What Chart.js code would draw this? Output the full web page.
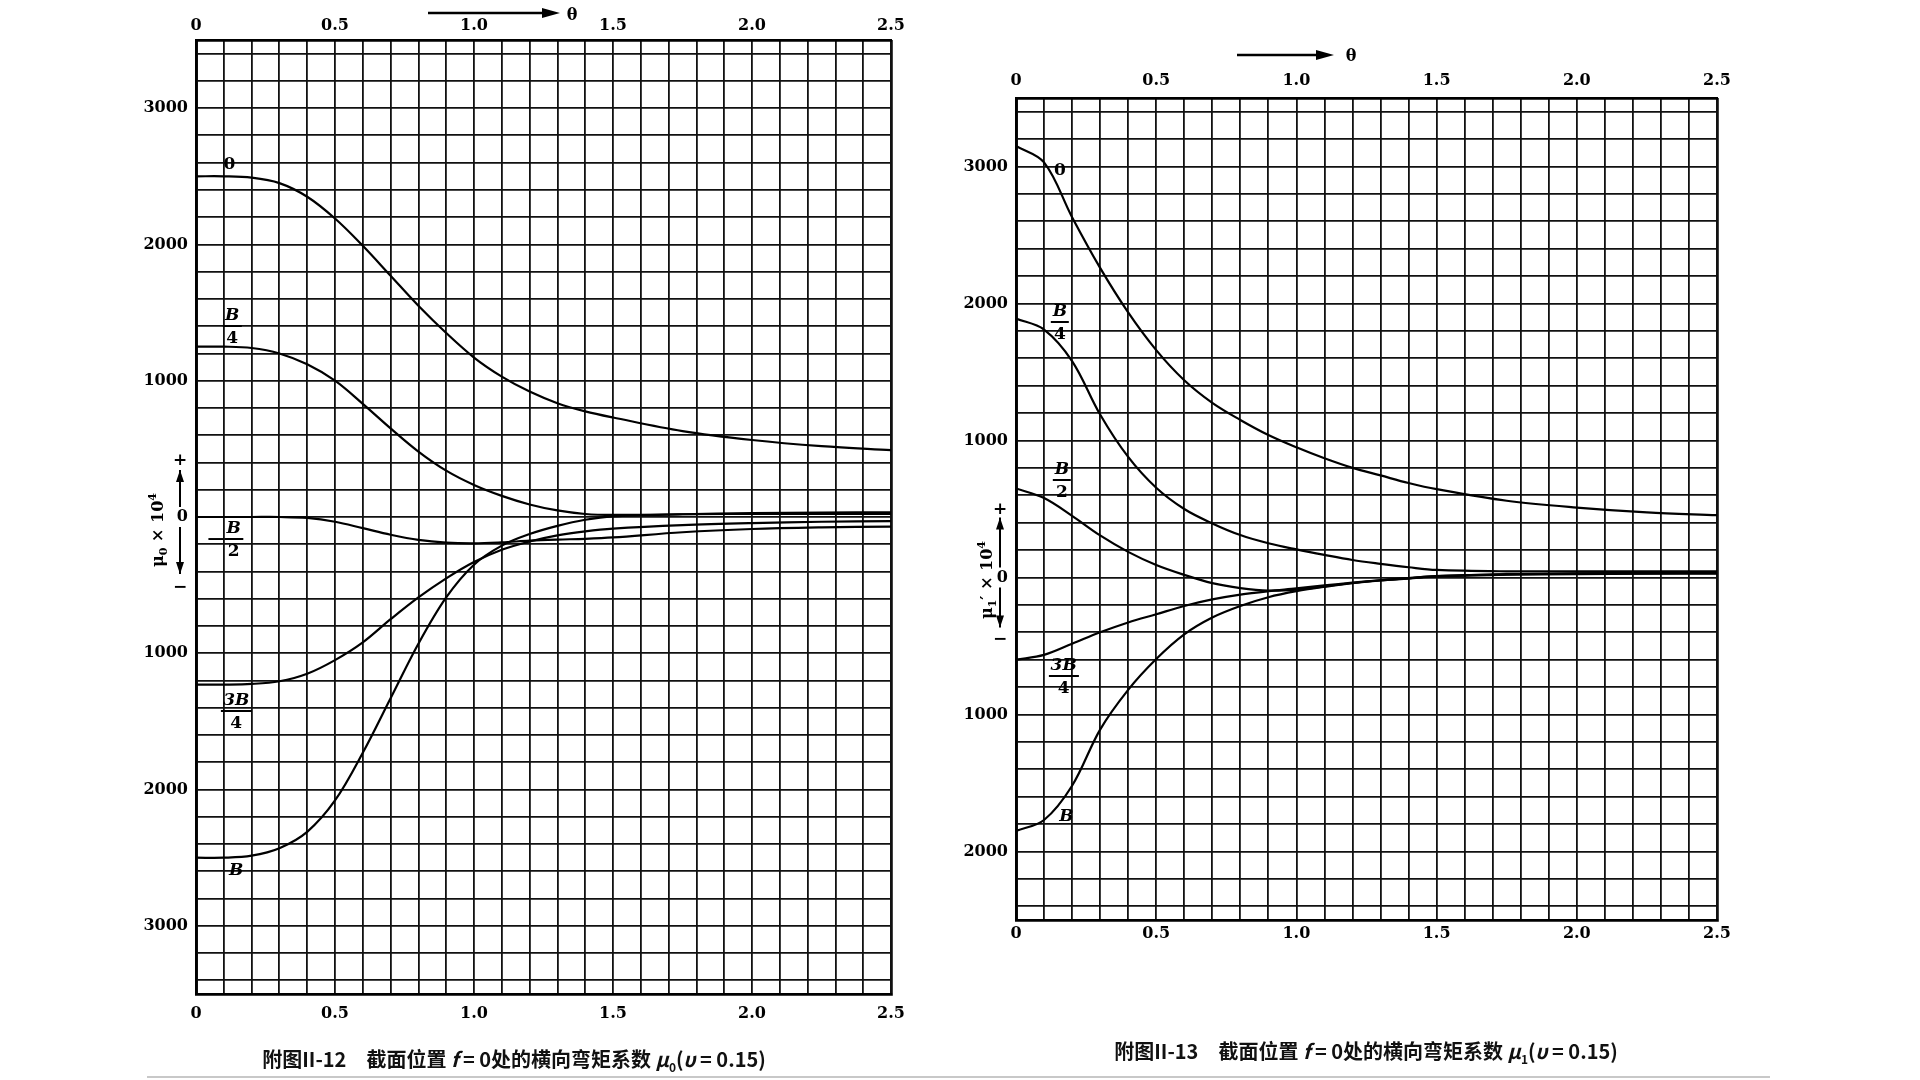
<!DOCTYPE html>
<html>
<head>
<meta charset="utf-8">
<script src="https://cdn.jsdelivr.net/npm/chart.js@4.4.0/dist/chart.umd.min.js"></script>
<style>
  body { margin: 0; background: #fff; }
  #page { position: relative; width: 1920px; height: 1080px; overflow: hidden; background: #fff; }
  .pane { position: absolute; }
  .lbl { position: absolute; transform: translate(-50%, -50%); font: bold 17px 'DejaVu Serif', serif; color: #000; white-space: nowrap; line-height: 1; }
  .row { display: inline-flex; align-items: center; }
  .frac { display: inline-flex; flex-direction: column; align-items: center; }
  .frac .n { font-style: italic; border-bottom: 2px solid #000; padding: 0 2px 2px; }
  .frac .d { padding-top: 2px; }
  .ytitle { position: absolute; transform: translate(-50%, -50%) rotate(-90deg); font: bold 16px 'DejaVu Serif', serif; white-space: nowrap; }
  .caption { position: absolute; transform: translate(-50%, -50%); font: bold 20px 'Noto Sans CJK SC', sans-serif; white-space: nowrap; color: #111; }
  .theta { position: absolute; transform: translate(-50%, -50%); font: bold 16px 'DejaVu Serif', serif; }
  .rule { position: absolute; left: 147px; top: 1076px; width: 1623px; height: 2px; background: #c8c8c8; }
</style>
</head>
<body>
<div id="page">
  <div class="pane" id="paneL" style="left:120px;top:0px"><canvas id="cL" width="800" height="1050"></canvas></div>
  <div class="pane" id="paneR" style="left:940px;top:50px"><canvas id="cR" width="810" height="900"></canvas></div>

  <svg style="position:absolute;left:0;top:0" width="1920" height="1080">
    <line x1="428" y1="13" x2="548" y2="13" stroke="#000" stroke-width="2.5"/>
    <polygon points="560,13 542,8 542,18" fill="#000"/>
    <line x1="1237" y1="55" x2="1322" y2="55" stroke="#000" stroke-width="2.5"/>
    <polygon points="1334,55 1316,50 1316,60" fill="#000"/>
  </svg>
  <div class="theta" style="left:572px;top:14px">θ</div>
  <div class="theta" style="left:1351px;top:55px">θ</div>

  <div class="ytitle" style="left:158px;top:530px">μ<sub style="font-size:11px">0</sub> × 10<sup style="font-size:11px">4</sup></div>
  <div class="ytitle" style="left:987px;top:580px">μ<sub style="font-size:11px">1</sub>′ × 10<sup style="font-size:11px">4</sup></div>

  <div class="caption" style="left:514px;top:1059px">附图II-12　截面位置 <i>f</i> = 0处的横向弯矩系数 <i>μ</i><sub style="font-size:12px">0</sub>(<i>υ</i> = 0.15)</div>
  <div class="caption" style="left:1366px;top:1051px">附图II-13　截面位置 <i>f</i> = 0处的横向弯矩系数 <i>μ</i><sub style="font-size:12px">1</sub>(<i>υ</i> = 0.15)</div>
  <div class="rule"></div>
</div>

<script>
const theta = [0, 0.1, 0.2, 0.3, 0.4, 0.5, 0.6, 0.7, 0.8, 0.9, 1.0, 1.1, 1.2, 1.3, 1.4, 1.5, 1.75, 2.0, 2.25, 2.5];

// 附图II-12 : μ0 × 10^4, load at 0, B/4, B/2, 3B/4, B
const mu0_0   = [2500, 2500, 2490, 2450, 2350, 2190, 1990, 1770, 1550, 1350, 1170, 1030, 920, 835, 775, 730, 630, 565, 520, 490];
const mu0_B4  = [1250, 1250, 1240, 1200, 1120, 1000, 830, 650, 480, 340, 235, 155, 92, 48, 22, 15, 20, 28, 32, 35];
const mu0_B2  = [0, 0, 0, 0, -7, -35, -82, -130, -168, -188, -193, -186, -174, -166, -160, -150, -112, -88, -76, -70];
const mu0_3B4 = [-1230, -1230, -1225, -1205, -1150, -1050, -920, -750, -590, -450, -330, -240, -180, -135, -105, -85, -60, -45, -35, -30];
const mu0_B   = [-2500, -2500, -2485, -2430, -2310, -2080, -1730, -1330, -930, -590, -350, -210, -125, -65, -20, 5, 20, 22, 22, 22];

// 附图II-13 : μ1' × 10^4
const mu1_0   = [3150, 3030, 2630, 2260, 1935, 1660, 1440, 1275, 1150, 1040, 950, 870, 800, 745, 690, 645, 560, 510, 475, 455];
const mu1_B4  = [1890, 1810, 1580, 1190, 880, 655, 500, 395, 310, 250, 205, 165, 128, 100, 75, 55, 45, 45, 45, 45];
const mu1_B2  = [650, 580, 450, 307, 187, 91, 19, -41, -77, -96, -89, -65, -40, -20, -5, 10, 25, 30, 32, 32];
const mu1_3B4 = [-600, -565, -484, -400, -328, -268, -208, -160, -125, -100, -80, -58, -38, -20, -5, 10, 22, 28, 30, 30];
const mu1_B   = [-1850, -1770, -1520, -1110, -820, -595, -415, -292, -208, -144, -100, -68, -42, -22, -8, 8, 20, 25, 28, 30];

const xTickLabels = ['0', '0.5', '1.0', '1.5', '2.0', '2.5'];
const yTickLabelsL = ['3000', '2000', '1000', '0', '1000', '2000', '3000'];
const yTickLabelsR = ['3000', '2000', '1000', '0', '1000', '2000'];

// curve names placed next to the curves [html, θ, value]
const fr = (n, d) => '<span class="frac"><span class="n">' + n + '</span><span class="d">' + d + '</span></span>';
const curveLabelsL = [
  ['0', 0.12, 2600],
  [fr('B', '4'), 0.13, 1405],
  ['<span class="row">— ' + fr('B', '2') + '</span>', 0.105, -160],
  [fr('3B', '4'), 0.145, -1420],
  ['<i>B</i>', 0.145, -2580]
];
const curveLabelsR = [
  ['0', 0.157, 2980],
  [fr('B', '4'), 0.157, 1868],
  [fr('B', '2'), 0.164, 715],
  [fr('3B', '4'), 0.17, -720],
  ['<i>B</i>', 0.18, -1734]
];

const tickFont = { family: 'DejaVu Serif', weight: 'bold', size: 16 };
const isHalf = v => Math.abs(v * 2 - Math.round(v * 2)) < 1e-6;

function xTicks() {
  const t = [];
  for (let i = 0; i <= 25; i++) t.push({ value: i / 10 });
  return t;
}
function yTicks(lo, hi) {
  const t = [];
  for (let v = lo; v <= hi; v += 200) t.push({ value: v });
  return t;
}

const yArrow = {
  id: 'yArrow',
  afterDraw(chart, args, o) {
    const { ctx, chartArea } = chart;
    const y = chart.scales.y;
    const x = chartArea.left - o.dx;
    const y0 = y.getPixelForValue(0);
    ctx.save();
    ctx.strokeStyle = '#000';
    ctx.fillStyle = '#000';
    ctx.lineWidth = 2;
    ctx.beginPath();
    ctx.moveTo(x, y0 - 10); ctx.lineTo(x, y0 - o.up);
    ctx.moveTo(x, y0 + 10); ctx.lineTo(x, y0 + o.down);
    ctx.stroke();
    ctx.beginPath();
    ctx.moveTo(x, y0 - o.up); ctx.lineTo(x - 4, y0 - o.up + 12); ctx.lineTo(x + 4, y0 - o.up + 12); ctx.closePath();
    ctx.moveTo(x, y0 + o.down); ctx.lineTo(x - 4, y0 + o.down - 12); ctx.lineTo(x + 4, y0 + o.down - 12); ctx.closePath();
    ctx.fill();
    ctx.restore();
  }
};

function makeChart(id, series, yMin, yMax, yLabels, sizes, arrow) {
  const datasets = series.map(s => ({
    data: theta.map((t, i) => ({ x: t, y: s[i] })),
    borderColor: '#000',
    borderWidth: 2.2,
    pointRadius: 0,
    fill: false,
    tension: 0.35
  }));
  const xLabel = v => isHalf(v) ? xTickLabels[Math.round(v * 2)] : '';
  const yLabel = v => (Math.round(v) % 1000 === 0) ? yLabels[3 - Math.round(v / 1000)] : '';
  return new Chart(document.getElementById(id).getContext('2d'), {
    type: 'line',
    data: { datasets },
    options: {
      responsive: false,
      animation: false,
      devicePixelRatio: 1,
      layout: { padding: { left: 0, top: 0, bottom: 0, right: sizes.right } },
      plugins: { legend: { display: false }, tooltip: { enabled: false }, yArrow: arrow },
      scales: {
        x: {
          type: 'linear', position: 'bottom', min: 0, max: 2.5,
          afterBuildTicks: s => { s.ticks = xTicks(); },
          afterFit: s => { s.height = sizes.bottom; },
          grid: {
            color: '#111',
            lineWidth: c => (c.tick && (c.tick.value === 0 || c.tick.value === 2.5)) ? 2.8 : 1.8,
            drawTicks: false
          },
          border: { display: true, color: '#000', width: 2.8 },
          ticks: { autoSkip: false, maxRotation: 0, color: '#000', font: tickFont, padding: sizes.padB, callback: xLabel }
        },
        x2: {
          type: 'linear', position: 'top', min: 0, max: 2.5,
          afterBuildTicks: s => { s.ticks = xTicks(); },
          afterFit: s => { s.height = sizes.top; },
          grid: { display: false, drawTicks: false },
          border: { display: true, color: '#000', width: 2.8 },
          ticks: { autoSkip: false, maxRotation: 0, color: '#000', font: tickFont, padding: sizes.padT, callback: xLabel }
        },
        y: {
          type: 'linear', min: yMin, max: yMax,
          afterBuildTicks: s => { s.ticks = yTicks(yMin + 100, yMax - 100); },
          afterFit: s => { s.width = sizes.left; },
          grid: { color: '#111', lineWidth: 1.8, drawTicks: false },
          border: { display: true, color: '#000', width: 2.8 },
          ticks: { autoSkip: false, color: '#000', font: tickFont, padding: 8, callback: yLabel }
        }
      }
    },
    plugins: [yArrow]
  });
}

const chartL = makeChart('cL', [mu0_0, mu0_B4, mu0_B2, mu0_3B4, mu0_B], -3500, 3500, yTickLabelsL,
  { left: 76, top: 40, bottom: 56, right: 29, padB: 10, padT: 5 }, { dx: 16, up: 47, down: 57 });
const chartR = makeChart('cR', [mu1_0, mu1_B4, mu1_B2, mu1_3B4, mu1_B], -2500, 3500, yTickLabelsR,
  { left: 76, top: 48, bottom: 30, right: 33, padB: 4, padT: 8 }, { dx: 16, up: 60, down: 50 });

const page = document.getElementById('page');
function put(chart, paneId, list) {
  const pane = document.getElementById(paneId);
  list.forEach(([html, t, v]) => {
    const d = document.createElement('div');
    d.className = 'lbl';
    d.style.left = (pane.offsetLeft + chart.scales.x.getPixelForValue(t)) + 'px';
    d.style.top = (pane.offsetTop + chart.scales.y.getPixelForValue(v)) + 'px';
    d.innerHTML = html;
    page.appendChild(d);
  });
}
put(chartL, 'paneL', curveLabelsL);
put(chartR, 'paneR', curveLabelsR);

// + and − marks at the ends of the sign arrows
function signs(chart, paneId, dx, up, down) {
  const pane = document.getElementById(paneId);
  const x = pane.offsetLeft + chart.chartArea.left - dx;
  const y0 = pane.offsetTop + chart.scales.y.getPixelForValue(0);
  [['+', y0 - up], ['−', y0 + down]].forEach(([s, y]) => {
    const d = document.createElement('div');
    d.className = 'lbl';
    d.style.left = x + 'px';
    d.style.top = y + 'px';
    d.textContent = s;
    page.appendChild(d);
  });
}
signs(chartL, 'paneL', 16, 58, 69);
signs(chartR, 'paneR', 16, 70, 60);
</script>
</body>
</html>
